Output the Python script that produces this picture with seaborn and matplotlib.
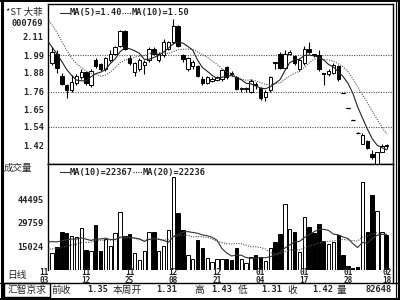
import matplotlib
matplotlib.use("Agg")
import matplotlib.pyplot as plt
from matplotlib.patches import Rectangle
from matplotlib.lines import Line2D
import numpy as np
import pandas as pd
import seaborn as sns

# ---------------- data ----------------
stock_name = "*ST 大菲"
stock_code = "000769"

opens = [1.94, 2.00, 1.86, 1.80, 1.77, 1.815, 1.85, 1.885, 1.80, 1.96,
         1.935, 1.90, 1.96, 2.00, 2.05, 2.14, 1.97, 1.885, 1.90, 1.93,
         1.96, 2.03, 1.96, 1.99, 2.03, 2.07, 2.17, 1.99, 1.90, 1.92,
         1.92, 1.84, 1.815, 1.83, 1.835, 1.84, 1.915, 1.88, 1.85, 1.775,
         1.775, 1.76, 1.81, 1.785, 1.73, 1.77, 1.945, 2.00, 1.91, 2.00,
         1.985, 1.90, 1.94, 2.03, 1.995, 1.99, 1.875, 1.87, 1.88, 1.92,
         1.75, 1.66, 1.58, 1.50, 1.43, 1.45, 1.37, 1.31, 1.385, 1.425]
highs = [2.04, 2.02, 1.88, 1.81, 1.865, 1.87, 1.90, 1.89, 1.90, 1.97,
         1.94, 1.98, 2.02, 2.05, 2.15, 2.15, 1.99, 1.95, 1.97, 1.96,
         2.04, 2.04, 2.01, 2.09, 2.08, 2.22, 2.18, 2.00, 1.98, 1.96,
         1.93, 1.86, 1.86, 1.85, 1.86, 1.90, 1.92, 1.89, 1.86, 1.79,
         1.79, 1.84, 1.82, 1.79, 1.77, 1.86, 1.945, 2.01, 2.02, 2.02,
         1.99, 1.97, 2.05, 2.07, 2.00, 2.02, 1.88, 1.90, 1.94, 1.93,
         1.75, 1.66, 1.58, 1.51, 1.50, 1.46, 1.395, 1.385, 1.43, 1.43]
lows = [1.93, 1.88, 1.80, 1.72, 1.76, 1.80, 1.84, 1.80, 1.79, 1.91,
        1.89, 1.89, 1.95, 1.99, 2.04, 2.02, 1.93, 1.86, 1.89, 1.87,
        1.95, 1.99, 1.95, 1.98, 2.02, 2.06, 2.04, 1.95, 1.89, 1.90,
        1.85, 1.80, 1.81, 1.82, 1.83, 1.83, 1.84, 1.86, 1.77, 1.76,
        1.76, 1.75, 1.78, 1.71, 1.70, 1.76, 1.90, 1.90, 1.90, 1.99,
        1.93, 1.89, 1.93, 2.00, 1.98, 1.89, 1.80, 1.86, 1.87, 1.83,
        1.75, 1.66, 1.58, 1.50, 1.43, 1.40, 1.34, 1.31, 1.38, 1.40]
closes = [2.01, 1.91, 1.81, 1.77, 1.82, 1.86, 1.885, 1.815, 1.89, 1.92,
          1.905, 1.97, 2.00, 2.04, 2.14, 2.03, 1.94, 1.94, 1.96, 1.95,
          2.03, 2.00, 2.00, 2.07, 2.07, 2.17, 2.05, 1.965, 1.97, 1.95,
          1.86, 1.815, 1.85, 1.84, 1.855, 1.895, 1.85, 1.87, 1.78, 1.785,
          1.785, 1.83, 1.80, 1.72, 1.76, 1.85, 1.94, 1.91, 2.00, 2.01,
          1.94, 1.96, 2.03, 2.01, 1.99, 1.90, 1.87, 1.89, 1.93, 1.84,
          1.75, 1.66, 1.58, 1.50, 1.49, 1.41, 1.35, 1.38, 1.42, 1.42]
volumes = [10850, 14200, 24000, 23000, 21500, 20900, 26500, 12500, 12100, 28200,
           11900, 19200, 15200, 23000, 36600, 21500, 22600, 10850, 6300, 12100,
           24000, 24000, 12100, 15200, 25100, 58300, 35500, 25100, 9200, 6900,
           18800, 13600, 7300, 5200, 6900, 6900, 6900, 6300, 14000, 6900,
           4200, 8400, 9400, 8000, 5800, 13600, 17800, 22600, 41400, 25500,
           23600, 11500, 33000, 27200, 23000, 28750, 18400, 16300, 17400, 21900,
           9400, 2500, 1000, 2100, 55400, 23600, 47022, 37200, 23600, 21848]
# history before the first visible day (feeds the moving averages only)
pre_closes = [2.40, 2.38, 2.36, 2.33, 2.30, 2.22, 2.12, 2.05, 2.02, 2.00]
pre_volumes = [8600, 9000, 8500, 9000, 8000, 9000, 8500, 9000, 8000, 9000,
               8600, 16000, 17000, 16500, 17200, 21000, 19000, 20500, 20000, 19950]

date_tick_bars = [0, 7, 16, 25, 34, 43, 52, 61, 69]
date_tick_labels = ["11\n03", "11\n12", "11\n25", "12\n08", "12\n21",
                    "01\n04", "01\n17", "01\n28", "02\n18"]
price_ticks = [1.42, 1.54, 1.65, 1.76, 1.88, 1.99, 2.11]
price_grid = [1.54, 1.76, 1.99]
volume_ticks = [15024, 29759, 44495]
info_labels = ["前收", "本周开", "高", "低", "收", "量"]
info_values = ["1.35", "1.31", "1.43", "1.31", "1.42", "82648"]

# ---------------- derived ----------------
n = len(closes)
idx = np.arange(n)
up = []
prev = pre_closes[-1]
for o, c in zip(opens, closes):
    up.append(c > o or (c == o and c >= prev))
    prev = c
face = ["white" if u else "black" for u in up]

all_c = pd.Series(pre_closes + closes, dtype=float)
all_v = pd.Series(pre_volumes + volumes, dtype=float)
xc = np.arange(-len(pre_closes), n)
xv = np.arange(-len(pre_volumes), n)
ma5 = all_c.rolling(5).mean()
ma10 = all_c.rolling(10).mean()
vma10 = all_v.rolling(10).mean()
vma20 = all_v.rolling(20).mean()

# ---------------- style ----------------
sns.set_theme(style="white")
MONO = ["DejaVu Sans Mono", "Noto Sans CJK SC"]
CJK = ["Noto Sans CJK SC", "DejaVu Sans"]
plt.rcParams["font.family"] = MONO

W, H = 400, 300
fig = plt.figure(figsize=(4, 3), dpi=100)
fig.patch.set_facecolor("white")

def fx(x):
    return x / W

def fy(y):
    return 1 - y / H

L, R = 48, 393
T_P, B_P, B_V = 4, 164, 270
axp = fig.add_axes([fx(L), fy(B_P), (R - L) / W, (B_P - T_P) / H])
axv = fig.add_axes([fx(L), fy(B_V), (R - L) / W, (B_V - B_P) / H])
xlim = (-0.85, n + 0.3)

# ---------------- price panel ----------------
axp.set_xlim(*xlim)
axp.set_ylim(1.307, 2.311)
for g in price_grid:
    axp.axhline(g, color="#555555", lw=0.8, ls=(0, (1, 1.2)), zorder=0)
axp.vlines(idx, lows, highs, color="black", lw=0.8, zorder=2)
bottoms = [min(o, c) for o, c in zip(opens, closes)]
heights = [abs(c - o) for o, c in zip(opens, closes)]
axp.bar(idx, heights, bottom=bottoms, width=0.7, color=face,
        edgecolor="black", linewidth=0.7, zorder=3)
doji = [i for i in idx if opens[i] == closes[i]]
axp.hlines([closes[i] for i in doji], [i - 0.4 for i in doji], [i + 0.4 for i in doji],
           color="black", lw=0.9, zorder=3)
mask_c = xc >= -1
sns.lineplot(x=xc[mask_c], y=ma10.values[mask_c], ax=axp, color="#555555", lw=0.8,
             linestyle=(0, (1, 1.2)), estimator=None, zorder=4)
sns.lineplot(x=xc[mask_c], y=ma5.values[mask_c], ax=axp, color="#222222", lw=0.8,
             estimator=None, zorder=4)
axp.set_yticks(price_ticks)
axp.set_yticklabels([f"{t:.2f}" for t in price_ticks])
axp.set_xticks([])
axp.tick_params(axis="y", length=0, pad=3, labelsize=6.2)
for lab in axp.get_yticklabels():
    lab.set_fontweight("bold")
axp.set_xlabel("")
axp.set_ylabel("")
for s in axp.spines.values():
    s.set_color("black")
    s.set_linewidth(1.0)

# ---------------- volume panel ----------------
axv.set_xlim(*xlim)
axv.set_ylim(0, 66462)
axv.bar(idx, volumes, width=0.7, color=face, edgecolor="black", linewidth=0.7, zorder=3)
mask_v = xv >= -1
sns.lineplot(x=xv[mask_v], y=vma20.values[mask_v], ax=axv, color="#555555", lw=0.8,
             linestyle=(0, (1, 1.2)), estimator=None, zorder=4)
sns.lineplot(x=xv[mask_v], y=vma10.values[mask_v], ax=axv, color="#333333", lw=0.8,
             estimator=None, zorder=4)
axv.set_yticks(volume_ticks)
axv.set_yticklabels([str(t) for t in volume_ticks])
axv.set_xticks([])
axv.tick_params(axis="y", length=0, pad=3, labelsize=6.2)
for lab in axv.get_yticklabels():
    lab.set_fontweight("bold")
axv.set_xlabel("")
axv.set_ylabel("")
axv.spines["bottom"].set_visible(False)
for k in ["left", "top", "right"]:
    axv.spines[k].set_color("black")
    axv.spines[k].set_linewidth(1.0)

# date labels under volume panel
for b, t in zip(date_tick_bars, date_tick_labels):
    xt = axv.transData.transform((b, 0))[0]
    xf = fig.transFigure.inverted().transform((xt, 0))[0]
    if b == date_tick_bars[0]:
        xf -= 8 / W
    fig.text(xf, fy(276.5), t, ha="center", va="center", fontsize=5.6,
             fontweight="bold", linespacing=0.9, family=MONO)

# ---------------- legends ----------------
def legend_row(y, items):
    for (x0, style), (xt, txt) in items:
        ls = "-" if style == "solid" else (0, (1, 1.2))
        fig.add_artist(Line2D([fx(x0), fx(x0 + 10)], [fy(y), fy(y)], color="#333333",
                              lw=0.8, ls=ls))
        fig.text(fx(xt), fy(y), txt, ha="left", va="center", fontsize=6.2,
                 fontweight="bold", family=MONO)

legend_row(13, [((60, "solid"), (70, f"MA(5)={ma5.iloc[-1]:.2f}")),
                ((122, "dot"), (132, f"MA(10)={ma10.iloc[-1]:.2f}"))])
legend_row(172, [((60, "solid"), (70, f"MA(10)={vma10.iloc[-1]:.0f}")),
                 ((133, "dot"), (143, f"MA(20)={vma20.iloc[-1]:.0f}"))])

# left column labels
fig.text(fx(6), fy(12), stock_name, ha="left", va="center", fontsize=6.8,
         family=CJK)
fig.text(fx(11), fy(23), stock_code, ha="left", va="center", fontsize=6.2,
         fontweight="bold", family=MONO)
fig.text(fx(4), fy(168), "成交量", ha="left", va="center", fontsize=6.8, family=CJK)
fig.text(fx(7), fy(275), "日线", ha="left", va="center", fontsize=7, family=CJK)

# ---------------- frame & info bar ----------------
fig.add_artist(Line2D([fx(0), fx(400)], [fy(283), fy(283)], color="black", lw=1.0))
fig.add_artist(Line2D([fx(R), fx(R)], [fy(270), fy(283)], color="black", lw=1.0))
fig.add_artist(Rectangle((fx(4), fy(297)), (50 - 4) / W, 14 / H, fill=False,
                         edgecolor="black", lw=1.0, transform=fig.transFigure))
fig.text(fx(27), fy(290), "汇智京求", ha="center", va="center", fontsize=7, family=CJK)
label_x = [52, 113, 194, 238, 287, 337]
value_right = [108, 177, 232, 282, 333, 392]
for lx, lt in zip(label_x, info_labels):
    fig.text(fx(lx), fy(290), lt, ha="left", va="center", fontsize=7, family=CJK)
for vx, vt in zip(value_right, info_values):
    fig.text(fx(vx), fy(290), vt, ha="right", va="center", fontsize=6.2,
             fontweight="bold", family=MONO)

# outer border
fig.add_artist(Line2D([fx(1.5), fx(1.5)], [0, 1], color="black", lw=2.2))
fig.add_artist(Line2D([0, 1], [fy(1), fy(1)], color="black", lw=1.4))
fig.add_artist(Line2D([0, 1], [fy(298.8), fy(298.8)], color="black", lw=1.4))
fig.add_artist(Line2D([fx(395.5), fx(395.5)], [0, 1], color="black", lw=0.8))
fig.add_artist(Line2D([fx(398.5), fx(398.5)], [0, 1], color="black", lw=1.6))

fig.savefig("out.png", dpi=100)
